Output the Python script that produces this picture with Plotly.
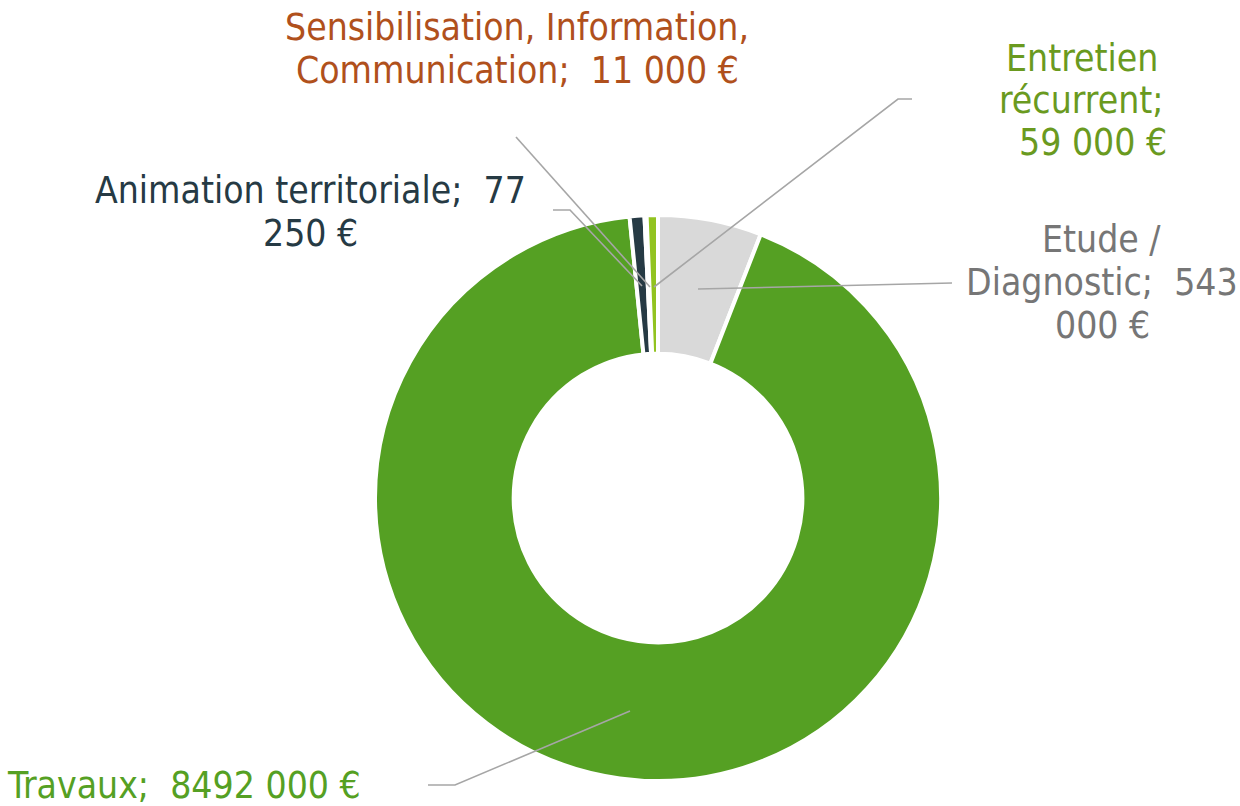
import plotly.graph_objects as go

W, H = 1240, 806

categories = ["Etude / Diagnostic", "Travaux", "Animation territoriale",
              "Sensibilisation, Information, Communication", "Entretien récurrent"]
values = [543000, 8492000, 77250, 11000, 59000]
slice_colors = ["#d9d9d9", "#55a023", "#263a44", "#c55a11", "#92c320"]

# label lines (as wrapped in the reference)
label_lines = [
    ["Etude /", "Diagnostic;  543", "000 €"],
    ["Travaux;  8492 000 €"],
    ["Animation territoriale;  77", "250 €"],
    ["Sensibilisation, Information,", "Communication;  11 000 €"],
    ["Entretien", "récurrent;", "59 000 €"],
]
label_colors = ["#767676", "#55a023", "#263a44", "#b0501c", "#6a9a1f"]
# per-line centre positions (pixels from top-left)
label_line_pos = [
    [(1101, 240), (1102, 283), (1102, 326)],
    [(184, 785)],
    [(310, 190), (310, 233)],
    [(517, 27), (517, 70)],
    [(1082, 58), (1081, 100), (1093, 142)],
]
# leader lines (pixel polylines)
leaders = [
    [(952, 283), (698, 289)],
    [(428, 785), (455, 785), (630, 711)],
    [(553, 210), (570, 210), (642, 286)],
    [(516, 137), (650, 287)],
    [(912, 99), (898, 99), (654, 287)],
]

cx, cy, R = 658, 498, 283

fig = go.Figure(go.Pie(
    labels=categories, values=values, sort=False, direction="clockwise",
    rotation=0, hole=0.51, textinfo="none", hoverinfo="label+value",
    marker=dict(colors=slice_colors, line=dict(color="white", width=4)),
    domain=dict(x=[(cx - R) / W, (cx + R) / W], y=[(H - cy - R) / H, (H - cy + R) / H]),
    showlegend=False,
))

def px(x, y):
    return x / W, 1 - y / H

for lines, col, poss in zip(label_lines, label_colors, label_line_pos):
    for txt, (x, y) in zip(lines, poss):
        ax, ay = px(x, y)
        fig.add_annotation(x=ax, y=ay, xref="paper", yref="paper", text=txt,
                           showarrow=False, align="center", xanchor="center", yanchor="middle",
                           font=dict(family="DejaVu Sans Condensed, DejaVu Sans", size=37, color=col))

for pts in leaders:
    path = "M " + " L ".join(f"{px(x, y)[0]:.5f},{px(x, y)[1]:.5f}" for x, y in pts)
    fig.add_shape(type="path", path=path, xref="paper", yref="paper",
                  line=dict(color="#a6a6a6", width=1.6))

fig.update_layout(width=W, height=H, margin=dict(l=0, r=0, t=0, b=0),
                  paper_bgcolor="white", plot_bgcolor="white")
fig.write_html("out.html", config={"displayModeBar": False},
               post_script="document.body.style.margin='0';")
